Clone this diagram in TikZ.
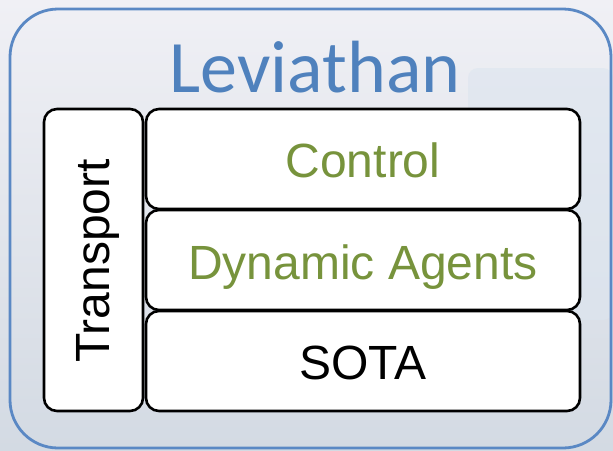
\documentclass[tikz,border=0pt]{standalone}
\usepackage{fontspec}
\setmainfont{Liberation Sans}
\newfontfamily\titlefont{Carlito}
\definecolor{frameblue}{HTML}{5A88C4}
\definecolor{titleblue}{HTML}{4F81BD}
\definecolor{layergreen}{HTML}{77933C}
\definecolor{bgtop}{HTML}{F0F0F5}
\definecolor{bgbottom}{HTML}{D3DAE3}
\definecolor{haze}{HTML}{DCE5EF}
\begin{document}
\begin{tikzpicture}[x=1pt,y=-1pt,
  layer/.style={draw=black, line width=2.6pt, fill=white, rounded corners=13pt},
  layertext/.style={font=\fontsize{48}{50}\selectfont, inner sep=0pt}]
% background
\shade[top color=bgtop, bottom color=bgbottom] (0,0) rectangle (613,450);
\fill[haze, opacity=0.6, rounded corners=10pt] (468,68) rectangle (613,320);
\useasboundingbox (0,0) rectangle (613,450);
% outer frame
\draw[frameblue, line width=2.8pt, rounded corners=48pt] (10,9) rectangle (611,448);
\node[text=titleblue, font=\titlefont\fontsize{74}{76}\selectfont, inner sep=0pt, anchor=base] (title) at (315,92) {Leviathan};
% transport column
\draw[layer] (44,109) rectangle (143,411);
\coordinate (tc) at (98,261);
\node[layertext, rotate=90] (transport) at (tc) {Transport};
% stacked layers
\draw[layer] (146,109) rectangle (580,209);
\draw[layer] (146,210) rectangle (580,310);
\draw[layer] (146,311) rectangle (580,411);
\node[layertext, text=layergreen, anchor=base] (control) at (363,177) {Control};
\node[layertext, text=layergreen, anchor=base] (agents) at (363,279) {Dynamic Agents};
\node[layertext, anchor=base] (sota) at (363,379) {SOTA};
\end{tikzpicture}
\end{document}
